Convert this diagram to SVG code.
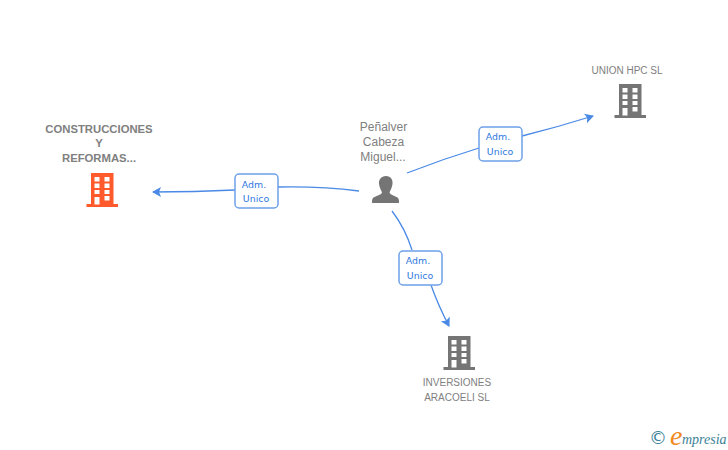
<svg xmlns="http://www.w3.org/2000/svg" xmlns:xlink="http://www.w3.org/1999/xlink" width="728" height="450" viewBox="0 0 728 450">
<style>
.lbl{font-family:"Liberation Sans",Arial,sans-serif;font-size:10px;fill:#808080;text-anchor:middle}
.b{font-weight:bold;font-size:11.300px}
.p{font-size:12px}
.edge{fill:none;stroke:#4a8ae6;stroke-width:1.3}
.box{fill:#fff;stroke:#6ea0ea;stroke-width:1.5}
.adm{font-family:"DejaVu Sans",sans-serif;font-size:9.400px;fill:#2f78e0;text-anchor:middle}
</style>
<defs>
<marker id="arr" markerWidth="12" markerHeight="12" refX="8" refY="5" orient="auto" markerUnits="userSpaceOnUse">
<path d="M0 0L9 5L0 10L2 5Z" fill="#4a8ae6"/>
</marker>
<path id="bld" fill-rule="evenodd" d="M4.500 0H27V31H31.500V34H0V31H4.500ZM8 4V8.500H13V4ZM18 4V8.500H23V4ZM8 10.500V15H13V10.500ZM18 10.500V15H23V10.500ZM8 17V21H13V17ZM18 17V21H23V17ZM8 24V31.500H13V24ZM18 23V27.500H23V23Z"/>
</defs>
<g id="connectors">
<path class="edge" d="M359 191Q320 186 278 187M235 190Q195 192 153 192" marker-end="url(#arr)"/>
<path class="edge" d="M407 173Q443 159 479 148M522 136Q558 127 593 116" marker-end="url(#arr)"/>
<path class="edge" d="M392 211Q405 228 412 250M431 285Q438 305 449 326" marker-end="url(#arr)"/>
</g>
<g id="edge-label-1"><rect class="box" x="235" y="174" width="43" height="34" rx="4"/><text class="adm" x="254" y="188">Adm.</text><text class="adm" x="256" y="202">Unico</text></g>
<g id="edge-label-2"><rect class="box" x="479" y="127" width="43" height="34" rx="4"/><text class="adm" x="498" y="140">Adm.</text><text class="adm" x="500" y="155">Unico</text></g>
<g id="edge-label-3"><rect class="box" x="399" y="251" width="43" height="34" rx="4"/><text class="adm" x="418" y="264">Adm.</text><text class="adm" x="420" y="279">Unico</text></g>
<g id="node-construcciones">
<text class="lbl b" x="99" y="133">CONSTRUCCIONES</text><text class="lbl b" x="99" y="147">Y</text><text class="lbl b" x="99" y="162">REFORMAS...</text>
<use xlink:href="#bld" href="#bld" x="86.500" y="173" fill="#ff5a2c"/>
</g>
<g id="node-penalver">
<text class="lbl p" x="383.500" y="131">Peñalver</text><text class="lbl p" x="383.500" y="146">Cabeza</text><text class="lbl p" x="383" y="161">Miguel...</text>
<path fill="#757575" d="M386 176C391 176 393 180 392.500 184C392 188 390 191 389.500 192.500C390 195 396 196 398 198C399 199 399 201 399 203H372C372 201 372 199 373 198C375 196 381.500 195 382 192.500C381.500 191 379.500 188 379 184C378.500 180 381 176 386 176Z"/>
</g>
<g id="node-union">
<text class="lbl" x="627" y="74">UNION HPC SL</text>
<use xlink:href="#bld" href="#bld" x="614.500" y="84" fill="#757575"/>
</g>
<g id="node-inversiones">
<text class="lbl" x="457" y="386">INVERSIONES</text><text class="lbl" x="457" y="401">ARACOELI SL</text>
<use xlink:href="#bld" href="#bld" x="443.500" y="336" fill="#757575"/>
</g>
<g id="logo">
<text x="658" y="444" font-family="'DejaVu Sans',sans-serif" font-size="18" fill="#3d7f96" text-anchor="middle">©</text>
<text x="670" y="445" font-family="'Liberation Serif',serif" font-style="italic" font-size="28" fill="#f08a1d">e</text>
<text x="682" y="444" font-family="'Liberation Serif',serif" font-style="italic" font-size="14" fill="#3d7f96">mpresia</text>
</g>
</svg>
